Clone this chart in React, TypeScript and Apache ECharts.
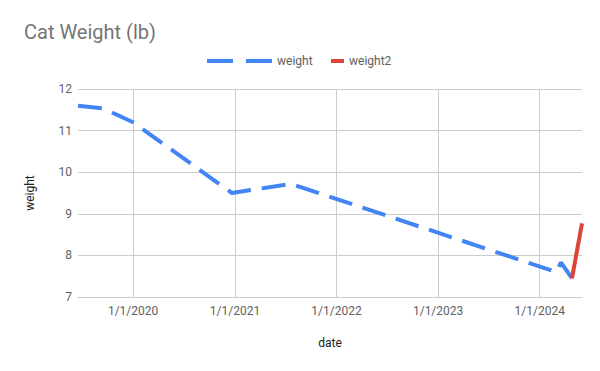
import React, { useEffect, useRef } from "react";
import * as echarts from "echarts";

const weightDates = [
  "2019-06-17",
  "2019-09-17",
  "2020-01-01",
  "2020-12-21",
  "2021-07-21",
  "2024-03-01",
  "2024-03-17",
  "2024-04-26",
];
const weightValues = [11.6, 11.53, 11.2, 9.5, 9.72, 7.6, 7.83, 7.45];

const weight2Dates = ["2024-04-26", "2024-06-01"];
const weight2Values = [7.45, 8.77];

const yTicks = [7, 8, 9, 10, 11, 12];
const xMin = "2019-06-17";
const xMax = "2024-06-01";

const BLUE = "#4285F4";
const RED = "#DB4437";
const FONT = "Roboto";
const DAY = 86400000;

export default function App() {
  const ref = useRef<HTMLDivElement>(null);
  useEffect(() => {
    if (!ref.current) return;
    const chart = echarts.init(ref.current, undefined, { renderer: "svg" });
    chart.setOption({
      animation: false,
      backgroundColor: "#ffffff",
      title: {
        text: "Cat Weight (lb)",
        left: 19,
        top: 17,
        textStyle: { fontFamily: FONT, fontSize: 20, fontWeight: "normal", color: "#757575" },
      },
      legend: [
        {
          data: [{ name: "weight", icon: "path://M0,0H26V4H0ZM39,0H65V4H39Z" }],
          left: 202,
          top: 50,
          itemWidth: 65,
          itemHeight: 4,
          itemStyle: { color: BLUE },
          textStyle: { fontFamily: FONT, fontSize: 12, color: "#616161" },
        },
        {
          data: [{ name: "weight2", icon: "rect" }],
          left: 326,
          top: 50,
          itemWidth: 13,
          itemHeight: 4,
          itemStyle: { color: RED },
          textStyle: { fontFamily: FONT, fontSize: 12, color: "#616161" },
        },
      ],
      grid: { left: 78, right: 18, top: 89, bottom: 74, containLabel: false },
      xAxis: {
        type: "time",
        min: xMin,
        max: xMax,
        minInterval: 365 * DAY,
        maxInterval: 366 * DAY,
        name: "date",
        nameLocation: "middle",
        nameGap: 40,
        nameTextStyle: { fontFamily: FONT, fontSize: 12, color: "#222" },
        axisLine: { show: true, lineStyle: { color: "#cccccc" } },
        axisTick: { show: false },
        splitLine: { show: true, showMinLine: false, showMaxLine: false, lineStyle: { color: "#cccccc" } },
        axisLabel: {
          fontFamily: FONT,
          fontSize: 12,
          color: "#616161",
          margin: 8,
          showMinLabel: false,
          showMaxLabel: false,
          formatter: (v: number) => {
            const d = new Date(v);
            return `${d.getMonth() + 1}/${d.getDate()}/${d.getFullYear()}`;
          },
        },
      },
      yAxis: {
        type: "value",
        min: yTicks[0],
        max: yTicks[yTicks.length - 1],
        interval: 1,
        name: "weight",
        nameLocation: "middle",
        nameGap: 42,
        nameTextStyle: { fontFamily: FONT, fontSize: 12, color: "#222" },
        axisLine: { show: false },
        axisTick: { show: false },
        splitLine: { show: true, lineStyle: { color: "#cccccc" } },
        axisLabel: { fontFamily: FONT, fontSize: 12, color: "#616161", margin: 6 },
      },
      series: [
        {
          name: "weight",
          type: "line",
          symbol: "none",
          color: BLUE,
          lineStyle: { color: BLUE, width: 4, type: [24, 11], cap: "butt" },
          data: weightDates.map((d, i) => [d, weightValues[i]]),
        },
        {
          name: "weight2",
          type: "line",
          symbol: "none",
          color: RED,
          lineStyle: { color: RED, width: 4 },
          data: weight2Dates.map((d, i) => [d, weight2Values[i]]),
        },
      ],
    });
    return () => chart.dispose();
  }, []);
  return <div ref={ref} style={{ width: 600, height: 371, position: "absolute", left: 0, top: 0 }} />;
}
